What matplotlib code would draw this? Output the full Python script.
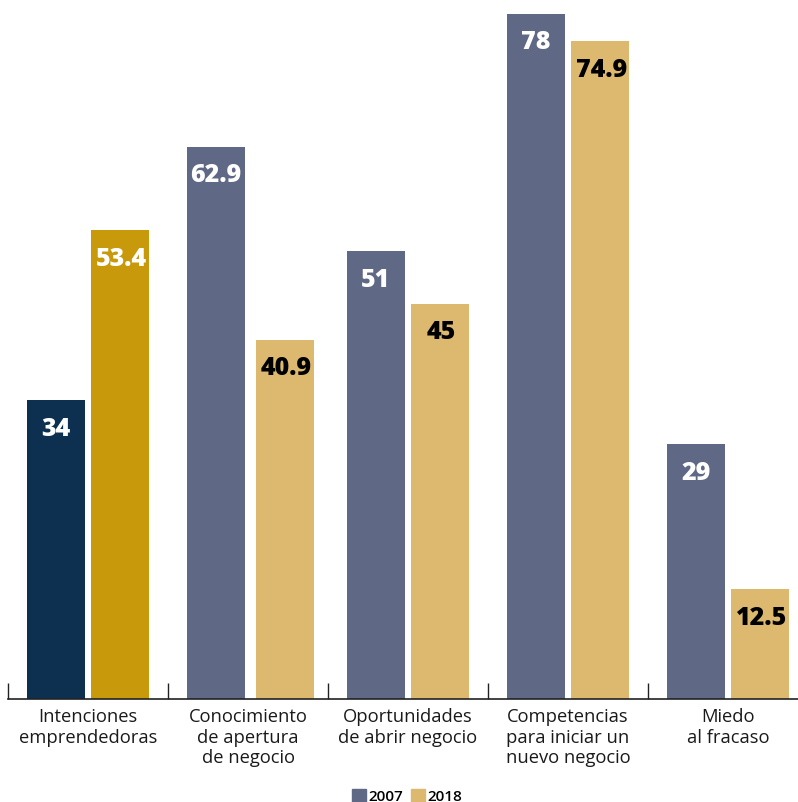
import numpy as np
import matplotlib.pyplot as plt
from matplotlib.patches import Patch

plt.rcParams['font.family'] = ['Open Sans', 'DejaVu Sans']

categories = ['Intenciones\nemprendedoras', 'Conocimiento\nde apertura\nde negocio',
              'Oportunidades\nde abrir negocio', 'Competencias\npara iniciar un\nnuevo negocio',
              'Miedo\nal fracaso']
vals_2007 = [34, 62.9, 51, 78, 29]
vals_2018 = [53.4, 40.9, 45, 74.9, 12.5]
labels_2007 = ['34', '62.9', '51', '78', '29']
labels_2018 = ['53.4', '40.9', '45', '74.9', '12.5']

COL_07 = '#5f6884'
COL_18 = '#dcb96e'
COL_07_HI = '#0d3050'
COL_18_HI = '#c8990b'

fig = plt.figure(figsize=(7.98, 8.02), dpi=100)
ax = fig.add_axes([8 / 798, (802 - 699) / 802, 790 / 798, (699 - 14) / 802])

x = np.arange(len(categories))
w = 0.3625
off = 0.2
# the 2018 bar of the second group sits a little further right in the original
shift18 = np.array([0, 5, 0, 0, 0]) / 160
c07 = [COL_07_HI] + [COL_07] * 4
c18 = [COL_18_HI] + [COL_18] * 4
x07 = x - off
x18 = x + off + shift18
ax.bar(x07, vals_2007, w, color=c07, zorder=2)
ax.bar(x18, vals_2018, w, color=c18, zorder=2)

ymax = 78
pad = 29 / 685 * ymax
for i in range(len(x)):
    ax.text(x07[i], vals_2007[i] - pad, labels_2007[i], ha='center', va='center',
            fontsize=18, fontweight='heavy', color='white')
    ax.text(x18[i] + 1.5 / 160, vals_2018[i] - pad, labels_2018[i], ha='center', va='center',
            fontsize=18, fontweight='heavy', color='white' if i == 0 else 'black')

ax.set_xlim(-0.5, -0.5 + 790 / 160)
ax.set_ylim(0, ymax)
for sp in ('top', 'right', 'left'):
    ax.spines[sp].set_visible(False)
ax.spines['bottom'].set_color('#222222')
ax.spines['bottom'].set_linewidth(1.2)
ax.set_yticks([])
ax.set_xticks(np.arange(len(categories)) - 0.5)
ax.set_xticklabels([])
ax.tick_params(axis='x', direction='in', length=11.5, width=1.0, color='#222222')

for i, cat in enumerate(categories):
    ax.text(x[i], -9 / 685 * ymax, cat, ha='center', va='top', fontsize=13.2,
            fontweight='medium', color='#1a1a1a', linespacing=1.18)

handles = [Patch(color=COL_07, label='2007'), Patch(color=COL_18, label='2018')]
fig.legend(handles=handles, loc='upper left', bbox_to_anchor=(352 / 798, 1 - 789 / 802),
           ncol=2, frameon=False, borderpad=0, borderaxespad=0,
           prop={'size': 11, 'weight': 'semibold'}, handlelength=0.9, handleheight=0.9,
           handletextpad=0.15, columnspacing=0.55)

fig.savefig('out.png', dpi=100)
